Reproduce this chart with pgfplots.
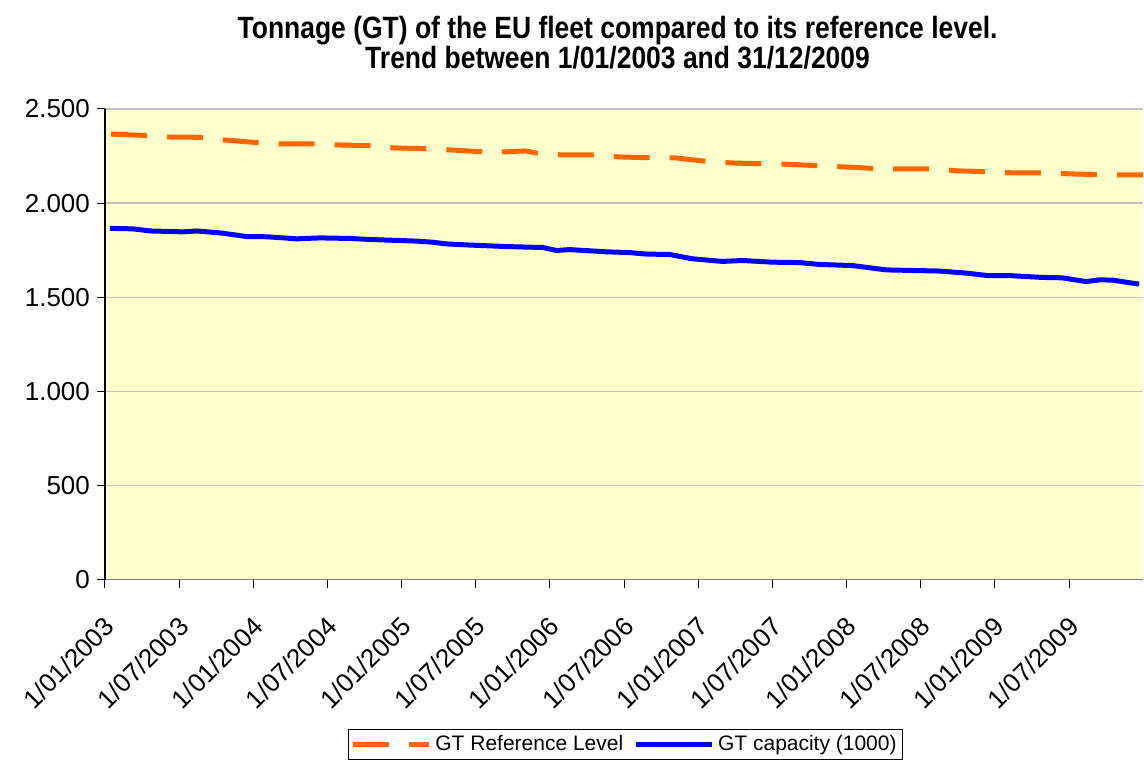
\documentclass[border=0pt]{standalone}
\usepackage{fontspec}
\setmainfont{Liberation Sans}
\newfontfamily\titlefont{Liberation Sans}[FakeStretch=0.86]
\usepackage{pgfplots}
\pgfplotsset{compat=1.18}
\definecolor{refor}{HTML}{FF6600}
\definecolor{capblue}{HTML}{0000FF}
\definecolor{bgyel}{HTML}{FFFFCC}
\definecolor{gridg}{HTML}{C0C0C0}
\begin{document}
\begin{tikzpicture}
\path (-52.5pt,-90pt) rectangle (519.5pt,290pt);
\node[align=center, font=\titlefont\bfseries\fontsize{15.4pt}{15pt}\selectfont] at (256.5pt,268.5pt)
  {Tonnage (GT) of the EU fleet compared to its reference level.\\Trend between 1/01/2003 and 31/12/2009};
\begin{axis}[
  at={(0pt,0pt)}, anchor=south west,
  scale only axis, width=519.5pt, height=235.5pt,
  xmin=0, xmax=84, ymin=0, ymax=2500,
  axis lines*=left,
  x axis line style={draw=gray, line width=0.8pt},
  y axis line style={draw=black, line width=0.6pt},
  axis background/.style={fill=bgyel},
  ymajorgrids, grid style={gridg, line width=0.6pt},
  tick align=outside, major tick length=4pt,
  tick style={black, line width=0.5pt},
  xtick={0,6,...,78},
  xticklabels={1/01/2003,1/07/2003,1/01/2004,1/07/2004,1/01/2005,1/07/2005,1/01/2006,1/07/2006,1/01/2007,1/07/2007,1/01/2008,1/07/2008,1/01/2009,1/07/2009},
  xticklabel style={rotate=45, anchor=north east, xshift=-7pt, yshift=-5.5pt, font=\fontsize{13pt}{15pt}\selectfont},
  ytick={0,500,...,2500},
  scaled y ticks=false,
  /pgf/number format/1000 sep={.},
  /pgf/number format/assume math mode=true,
  yticklabel style={font=\fontsize{13pt}{15pt}\selectfont},
  legend columns=2,
  legend style={at={(0.5014,-0.3503)}, anchor=center, draw=black, line width=0.5pt,
    font=\fontsize{10.5pt}{12pt}\selectfont, inner sep=1pt,
    /tikz/every even column/.append style={column sep=3pt}},
  legend image code/.code={\draw[#1] (0pt,0pt) -- (38pt,0pt);},
]
\addplot[refor, line width=2.5pt, dash pattern=on 18pt off 10pt] coordinates {
(0.5,2366) (3.4,2359) (5.1,2351) (8,2349) (9.7,2335) (12.5,2320) (14.1,2314) (17.1,2314)
(18.8,2309) (21.7,2304) (23.4,2293) (26.3,2288) (28,2282) (30.7,2272) (32.4,2272) (34,2277)
(35.3,2261) (37,2256) (39.9,2256) (41.6,2245) (44.5,2240) (46.2,2240) (47.6,2229) (49.1,2219)
(50.8,2213) (53.6,2208) (55.2,2206) (58.2,2197) (59.8,2192) (61.4,2187) (62.7,2181) (67.3,2181)
(69,2171) (71.8,2166) (73.5,2160) (76.4,2160) (78.1,2155) (81,2150) (84,2150)};
\addlegendentry{GT Reference Level}
\addplot[capblue, line width=2.5pt] coordinates {
(0.4,1866) (2.26,1863) (3.64,1852) (6.31,1847) (7.44,1852) (9.54,1840) (11.48,1822) (13.1,1821)
(15.52,1810) (17.38,1815) (19.81,1812) (21.67,1806) (25.22,1798) (26.52,1792) (27.65,1783)
(29.51,1777) (32.5,1769) (35.41,1764) (36.54,1748) (37.59,1753) (40.58,1741) (42.44,1737)
(43.82,1729) (45.68,1727) (47.53,1704) (49.96,1690) (51.58,1695) (54.0,1686) (56.18,1684)
(57.8,1674) (60.47,1668) (63.22,1645) (67.5,1639) (69.68,1628) (71.54,1614) (73.4,1614)
(75.83,1605) (77.44,1603) (79.38,1583) (80.44,1592) (81.49,1591) (83.1,1575) (83.67,1570)};
\addlegendentry{GT capacity (1000)}
\end{axis}
\end{tikzpicture}
\end{document}
